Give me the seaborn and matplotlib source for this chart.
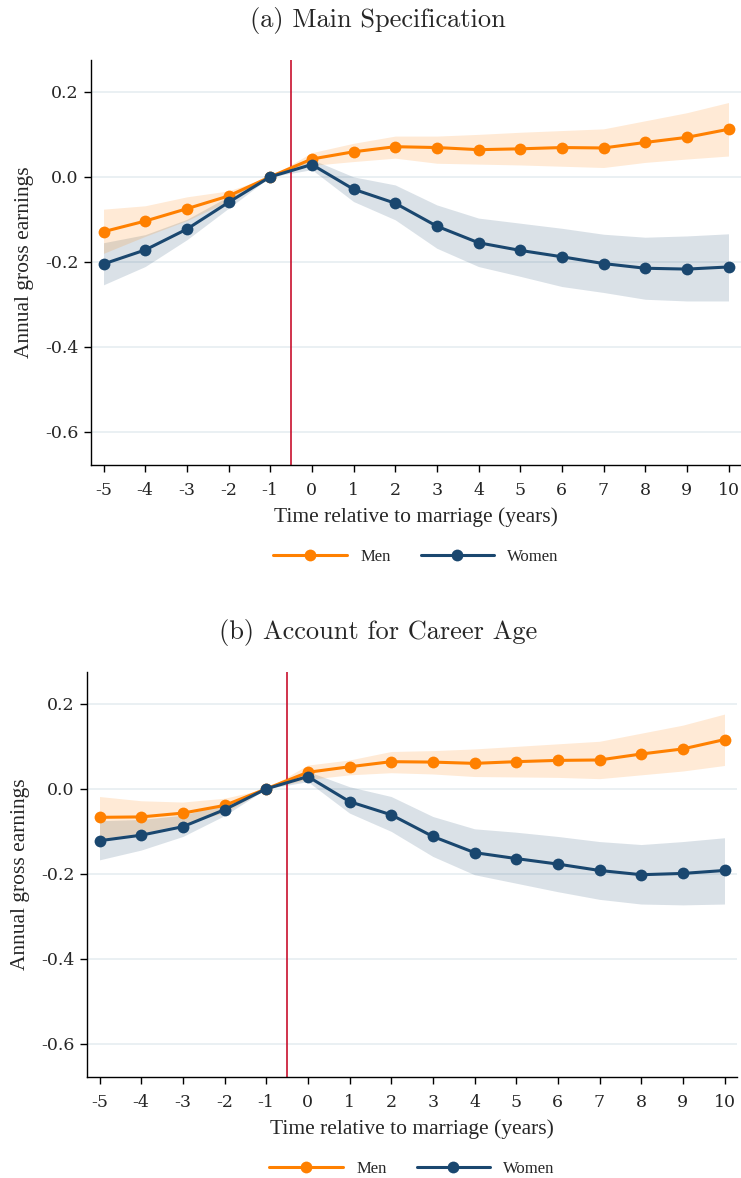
import numpy as np
import pandas as pd
import matplotlib
matplotlib.use("Agg")
import matplotlib.pyplot as plt
import seaborn as sns

# --- DATA ---
years = list(range(-5, 11))

# (a) Main specification
men_a = [-0.129, -0.104, -0.075, -0.045, 0.0, 0.042, 0.059, 0.071, 0.069, 0.064,
         0.066, 0.069, 0.068, 0.081, 0.093, 0.112]
men_a_hi = [-0.076, -0.068, -0.047, -0.033, 0.0, 0.057, 0.079, 0.096, 0.096, 0.100,
            0.105, 0.109, 0.113, 0.132, 0.151, 0.175]
men_a_lo = [-0.180, -0.140, -0.103, -0.057, 0.0, 0.027, 0.036, 0.044, 0.032, 0.030,
            0.028, 0.025, 0.022, 0.034, 0.042, 0.049]
women_a = [-0.205, -0.172, -0.123, -0.060, 0.0, 0.029, -0.029, -0.062, -0.116, -0.155,
           -0.173, -0.188, -0.204, -0.215, -0.217, -0.212]
women_a_hi = [-0.155, -0.136, -0.100, -0.046, 0.0, 0.041, 0.000, -0.019, -0.066, -0.097,
              -0.109, -0.121, -0.135, -0.142, -0.139, -0.134]
women_a_lo = [-0.254, -0.211, -0.148, -0.074, 0.0, 0.017, -0.058, -0.101, -0.168, -0.211,
              -0.234, -0.258, -0.272, -0.288, -0.292, -0.292]

# (b) Account for career age
men_b = [-0.067, -0.066, -0.057, -0.039, 0.0, 0.039, 0.052, 0.064, 0.063, 0.060,
         0.064, 0.067, 0.068, 0.082, 0.094, 0.116]
men_b_hi = [-0.018, -0.028, -0.031, -0.022, 0.0, 0.056, 0.068, 0.088, 0.090, 0.094,
            0.100, 0.106, 0.112, 0.131, 0.150, 0.176]
men_b_lo = [-0.117, -0.104, -0.083, -0.056, 0.0, 0.022, 0.033, 0.038, 0.035, 0.029,
            0.028, 0.027, 0.024, 0.033, 0.042, 0.055]
women_b = [-0.122, -0.109, -0.089, -0.049, 0.0, 0.029, -0.030, -0.061, -0.112, -0.150,
           -0.164, -0.177, -0.192, -0.202, -0.199, -0.192]
women_b_hi = [-0.075, -0.072, -0.062, -0.035, 0.0, 0.041, 0.005, -0.018, -0.065, -0.094,
              -0.102, -0.112, -0.124, -0.131, -0.124, -0.115]
women_b_lo = [-0.167, -0.144, -0.112, -0.063, 0.0, 0.017, -0.057, -0.100, -0.159, -0.202,
              -0.222, -0.242, -0.260, -0.271, -0.273, -0.271]

y_ticks = [-0.6, -0.4, -0.2, 0.0, 0.2]
y_tick_labels = ["-0.6", "-0.4", "-0.2", "0.0", "0.2"]
x_tick_labels = [str(t) for t in years]

ORANGE = "#ff8000"
NAVY = "#1a476f"
RED = "#c8102e"
GRID = "#e8eff2"

sns.set_theme(style="white")
plt.rcParams["font.family"] = ["Liberation Serif", "DejaVu Serif"]

fig = plt.figure(figsize=(7.41, 11.78), dpi=100)

panels = [
    ("(a) Main Specification", [91 / 741, 1 - 465 / 1178, 650 / 741, 405 / 1178], 1 - 20 / 1178,
     (men_a, men_a_lo, men_a_hi, women_a, women_a_lo, women_a_hi)),
    ("(b) Account for Career Age", [87 / 741, 1 - 1077 / 1178, 650 / 741, 405 / 1178], 1 - 632 / 1178,
     (men_b, men_b_lo, men_b_hi, women_b, women_b_lo, women_b_hi)),
]

for title, rect, ty, (m, mlo, mhi, w, wlo, whi) in panels:
    ax = fig.add_axes(rect)
    df = pd.DataFrame({
        "time": years * 2,
        "coef": m + w,
        "group": ["Men"] * len(years) + ["Women"] * len(years),
    })

    for yt in y_ticks:
        ax.axhline(yt, color=GRID, linewidth=1.3, zorder=0)

    ax.fill_between(years, wlo, whi, color=NAVY, alpha=0.16, linewidth=0, zorder=1)
    ax.fill_between(years, mlo, mhi, color=ORANGE, alpha=0.16, linewidth=0, zorder=1)
    ax.axvline(-0.5, color=RED, linewidth=1.2, zorder=2)

    sns.lineplot(data=df, x="time", y="coef", hue="group",
                 palette={"Men": ORANGE, "Women": NAVY},
                 marker="o", markersize=8.5, markeredgewidth=0, linewidth=2.2,
                 ax=ax, zorder=3)

    ax.set_xlim(-5.3, 10.3)
    ax.set_ylim(-0.678, 0.275)
    ax.set_xticks(years)
    ax.set_xticklabels(x_tick_labels, fontsize=12.5, family="DejaVu Serif")
    ax.set_yticks(y_ticks)
    ax.set_yticklabels(y_tick_labels, fontsize=12.5, family="DejaVu Serif")
    ax.tick_params(axis="x", direction="out", length=5, width=1, color="black",
                   bottom=True, pad=7)
    ax.tick_params(axis="y", direction="out", length=5, width=1, color="black",
                   left=True, pad=4)
    for s in ["top", "right"]:
        ax.spines[s].set_visible(False)
    for s in ["left", "bottom"]:
        ax.spines[s].set_color("black")
        ax.spines[s].set_linewidth(1)

    ax.set_xlabel("Time relative to marriage (years)", fontsize=15.5, labelpad=6)
    ax.set_ylabel("Annual gross earnings", fontsize=15.5)
    ax.yaxis.set_label_coords(-0.088, 0.5)

    sns.move_legend(ax, "upper center", bbox_to_anchor=(0.5, -0.17), ncol=2,
                    frameon=False, title=None, fontsize=12, handlelength=4.4,
                    handletextpad=0.8, columnspacing=1.8)

    fig.text(0.51, ty, title, ha="center", va="center", fontsize=19, family="cmr10")

fig.savefig("out.png", dpi=100)
